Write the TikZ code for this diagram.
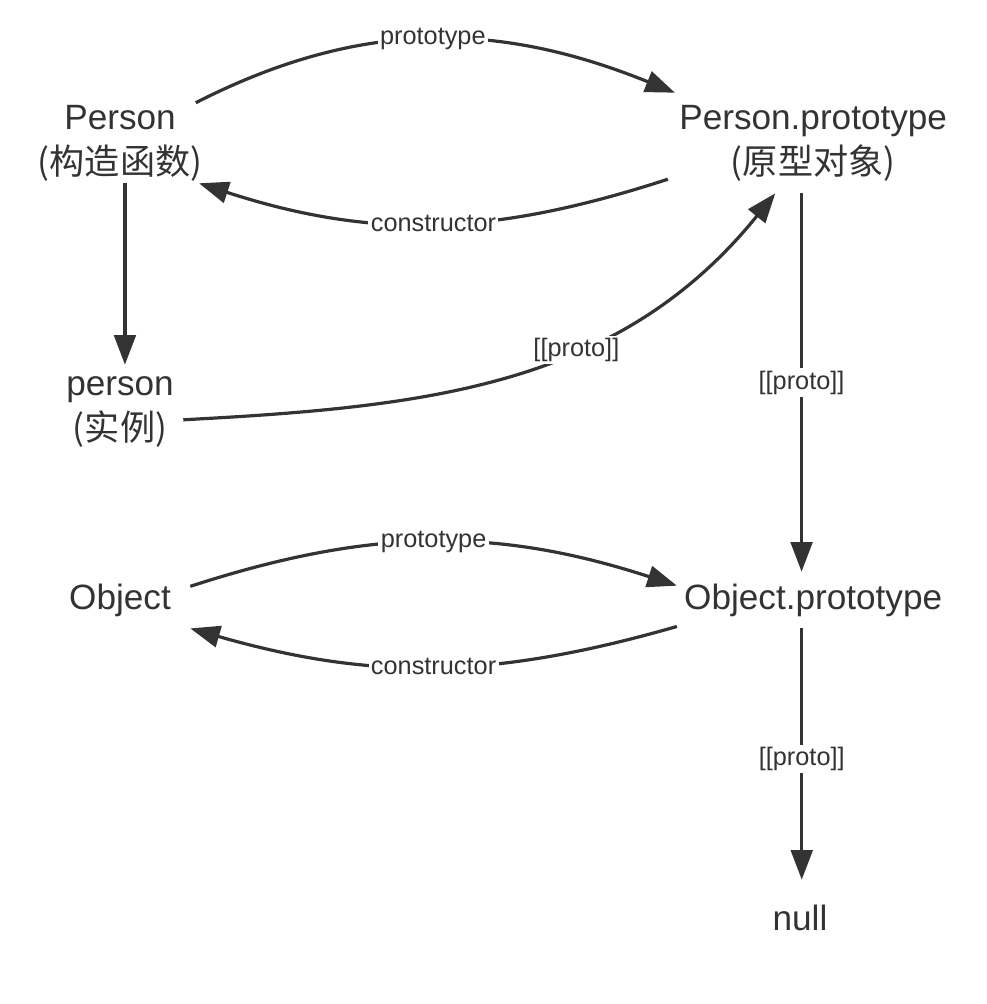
\documentclass[tikz,border=0pt]{standalone}
\usepackage{fontspec}
\setmainfont{Liberation Sans}
\newfontfamily\cjk{Noto Sans CJK SC}
\usetikzlibrary{arrows.meta}
\usetikzlibrary{positioning}

\definecolor{ink}{HTML}{333333}

\begin{document}
\begin{tikzpicture}[x=0.025cm,y=-0.025cm,node distance=17.325cm,
  every node/.style={text=ink,inner sep=0pt,align=center,font=\fontsize{25}{32}\selectfont},
  link/.style={draw=ink,line width=0.08cm,-{Triangle[length=0.74cm,width=0.54cm]}},
  lbl/.style={fill=white,inner sep=0.06cm,font=\fontsize{18}{20}\selectfont}]
  \useasboundingbox (0,0) rectangle (986,1004);

  \node (P) at (120,143)[minimum width=3.4cm,minimum height=2cm]{Person\\{\cjk (构造函数)}};
  \node[right of=P](PP)[minimum width=7.25cm,minimum height=2.5cm]{Person.prototype\\{\cjk (原型对象)}};
  \node (pe) at (120,412)[minimum width=3.15cm,minimum height=2.35cm]{person\\{\cjk (实例)}};

  \node (O) at (120,600)[minimum width=3.5cm,minimum height=1.5cm]{Object};
  \node[right of=O](OP)[minimum width=6.8cm,minimum height=1.4cm]{Object.prototype};
  \node (nl) at (800,918)[minimum width=2cm,minimum height=1.9cm]{null};

  % constructor <-> prototype
  \draw[link](P.28) to[out=27,in=158] node[lbl]{prototype} (PP.160);
  \draw[link](PP.194) to[out=198,in=-18] node[lbl]{constructor} (P.-27);
  \draw[link](O.11) to[out=18,in=162] node[lbl]{prototype} (OP.174);
  \draw[link](OP.191.5) to[out=196,in=-16] node[lbl]{constructor} (O.-22);

  % instance and chain
  \draw[link](P.-83)--(P.-83 |- pe.north);
  \draw[link](pe.-7) to[out=3,in=231] node[lbl,pos=0.61]{[[proto]]} (PP.233);
  \draw[link](PP.257.6)--node[lbl]{[[proto]]}(PP.257.6 |- OP.north);
  \draw[link](OP.248.6)--node[lbl,pos=0.52]{[[proto]]}(OP.248.6 |- nl.north);
\end{tikzpicture}
\end{document}
